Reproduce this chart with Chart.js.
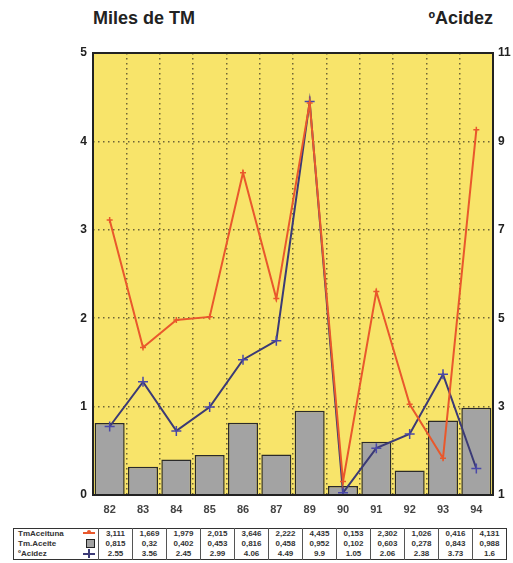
<!DOCTYPE html>
<html>
<head>
<meta charset="utf-8">
<script src="https://cdn.jsdelivr.net/npm/chart.js@4.4.1/dist/chart.umd.min.js"></script>
<style>
    body { margin: 0; background: #fff; font-family: "Liberation Sans", Arial, sans-serif; }
    #wrap { position: relative; width: 513px; height: 563px; }
    #chart-box { position: absolute; left: 0; top: 0; width: 513px; height: 522px; }
    .axis-title { position: absolute; top: 8px; font-weight: bold; font-size: 18px; color: #222; }
    #data-table { position: absolute; left: 13px; top: 528px; border-collapse: collapse; border: 1px solid #333; font-size: 8px; font-weight: bold; color: #333; }
    #data-table td { height: 10px; padding: 0 2px; border-left: 1px solid #555; width: 29px; text-align: center; white-space: nowrap; line-height: 10px; }
    #data-table td.lbl { width: 78px; text-align: left; border-left: none; padding-left: 4px; position: relative; }
    .sym { position: absolute; right: 3px; top: 1px; }
</style>
</head>
<body>
<div id="wrap">
    <div class="axis-title" style="left: 93px;">Miles de TM</div>
    <div class="axis-title" style="right: 20px;">ºAcidez</div>
    <div id="chart-box"><canvas id="chart"></canvas></div>
    <table id="data-table"></table>
</div>
<script>
// Data
const years = ["82", "83", "84", "85", "86", "87", "89", "90", "91", "92", "93", "94"];
const tmAceituna = [3.111, 1.669, 1.979, 2.015, 3.646, 2.222, 4.435, 0.153, 2.302, 1.026, 0.416, 4.131];
const tmAceite = [0.815, 0.32, 0.402, 0.453, 0.816, 0.458, 0.952, 0.102, 0.603, 0.278, 0.843, 0.988];
const acidez = [2.55, 3.56, 2.45, 2.99, 4.06, 4.49, 9.9, 1.05, 2.06, 2.38, 3.73, 1.6];

const yellow = "#f8e46a";
const redLine = "#e9582c";
const blueLine = "#3b3a76";
const gridColor = "#6e6436";

// yellow plot background + frame
const plotFrame = {
    id: "plotFrame",
    beforeDraw(chart) {
        const { ctx, chartArea: a } = chart;
        ctx.save();
        ctx.fillStyle = yellow;
        ctx.fillRect(a.left, a.top, a.width, a.height);
        ctx.restore();
    },
    afterDatasetsDraw(chart) {
        const { ctx, chartArea: a } = chart;
        ctx.save();
        ctx.strokeStyle = "#222";
        ctx.lineWidth = 2;
        ctx.strokeRect(a.left, a.top, a.width, a.height);
        ctx.restore();
    },
};

const tickFont = { family: "'Liberation Sans', Arial, sans-serif", weight: "bold", size: 12 };

new Chart(document.getElementById("chart"), {
    type: "bar",
    data: {
        labels: years,
        datasets: [
            {
                type: "line",
                label: "TmAceituna",
                data: tmAceituna,
                yAxisID: "y",
                borderColor: redLine,
                borderWidth: 2,
                tension: 0,
                pointStyle: "cross",
                pointRadius: 3,
                pointBorderColor: redLine,
                pointBorderWidth: 1.5,
                order: 1,
            },
            {
                type: "line",
                label: "ºAcidez",
                data: acidez,
                yAxisID: "y1",
                borderColor: blueLine,
                borderWidth: 2,
                tension: 0,
                pointStyle: "cross",
                pointRadius: 5,
                pointBorderColor: "#4a48a8",
                pointBorderWidth: 1.5,
                order: 2,
            },
            {
                label: "Tm.Aceite",
                data: tmAceite,
                yAxisID: "y",
                backgroundColor: "#a3a3a3",
                borderColor: "#2a2a2a",
                borderWidth: 1.5,
                barPercentage: 0.9,
                categoryPercentage: 1,
                order: 3,
            },
        ],
    },
    options: {
        responsive: true,
        maintainAspectRatio: false,
        animation: false,
        layout: { padding: { top: 53, bottom: 0, left: 0, right: 0 } },
        scales: {
            x: {
                offset: true,
                grid: {
                    offset: true,
                    color: gridColor,
                    lineWidth: 1.5,
                    drawTicks: false,
                },
                border: { display: false, dash: [1.5, 3.5] },
                ticks: { font: { ...tickFont, size: 11 }, color: "#444", padding: 8 },
                afterFit: (s) => { s.height = 27; },
            },
            y: {
                position: "left",
                min: 0,
                max: 5,
                ticks: { stepSize: 1, font: tickFont, color: "#222", padding: 6 },
                grid: { color: gridColor, lineWidth: 1.5, drawTicks: false },
                border: { display: false, dash: [1.5, 3.5] },
                afterFit: (s) => { s.width = 93; },
            },
            y1: {
                position: "right",
                min: 1,
                max: 11,
                ticks: { stepSize: 2, font: tickFont, color: "#222", padding: 5 },
                grid: { display: false, drawTicks: false },
                border: { display: false },
                afterFit: (s) => { s.width = 20; },
            },
        },
        plugins: {
            legend: { display: false },
            tooltip: { enabled: false },
        },
    },
    plugins: [plotFrame],
});

// data table under the chart
const fmtComma = (v) => String(v).replace(".", ",");
const rows = [
    { name: "TmAceituna", values: tmAceituna.map(fmtComma),
      sym: '<span class="sym" style="width:12px;height:5px;"><span style="position:absolute;top:2px;left:0;width:12px;height:1.5px;background:' + redLine + '"></span><span style="position:absolute;top:0;left:4px;width:4px;height:4px;border-radius:2px;background:' + redLine + '"></span></span>' },
    { name: "Tm.Aceite", values: tmAceite.map(fmtComma),
      sym: '<span class="sym" style="width:7px;height:7px;top:0;background:#a3a3a3;border:1.5px solid #222;"></span>' },
    { name: "ºAcidez", values: acidez.map(String),
      sym: '<span class="sym" style="width:12px;height:8px;top:0;"><span style="position:absolute;top:4px;left:0;width:12px;height:1.5px;background:' + blueLine + '"></span><span style="position:absolute;top:0;left:5px;width:1.5px;height:9px;background:' + blueLine + '"></span></span>' },
];
const table = document.getElementById("data-table");
rows.forEach((r) => {
    const tr = document.createElement("tr");
    tr.innerHTML = '<td class="lbl">' + r.name + r.sym + "</td>" +
        r.values.map((v) => "<td>" + v + "</td>").join("");
    table.appendChild(tr);
});
</script>
</body>
</html>
